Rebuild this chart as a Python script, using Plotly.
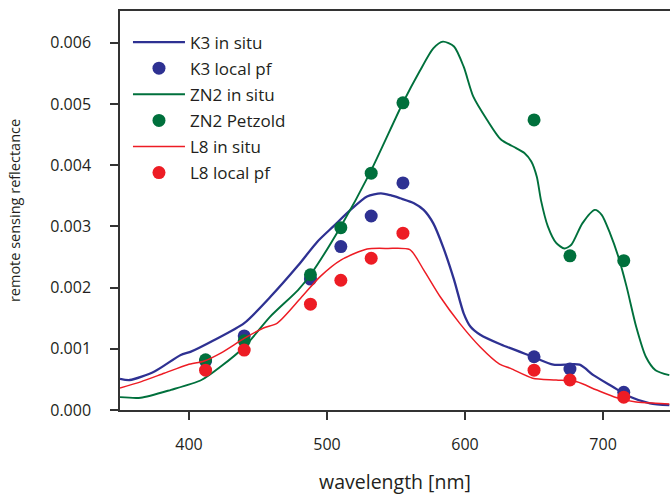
import plotly.graph_objects as go

# Measured in-situ spectra (wavelength in nm, remote sensing reflectance)
k3_wl = [350, 357, 375, 394, 401, 418, 440, 459, 479, 493, 505, 517, 529, 539, 546, 553,
         563, 570, 577, 584, 592, 599, 604, 611, 626, 649, 664, 683, 693, 707, 719, 734, 748]
k3_rrs = [0.00051, 0.00049, 0.00063, 0.00090, 0.00095, 0.00114, 0.00142, 0.00185, 0.00236,
          0.00275, 0.00301, 0.00327, 0.00349, 0.00354, 0.00351, 0.00346, 0.00338, 0.00327,
          0.00305, 0.00267, 0.00213, 0.00158, 0.00136, 0.00123, 0.00107, 0.00087, 0.00074,
          0.00074, 0.00057, 0.00038, 0.00022, 0.00011, 0.00008]

zn2_wl = [350, 365, 387, 409, 423, 440, 459, 479, 488, 510, 531, 555, 567, 577, 584, 592,
          599, 606, 616, 626, 637, 643, 648, 652, 655, 660, 666, 672, 677, 685, 694, 699,
          705, 711, 717, 724, 731, 738, 748]
zn2_rrs = [0.00021, 0.00020, 0.00033, 0.00049, 0.00071, 0.00103, 0.00153, 0.00196, 0.00221,
           0.00300, 0.00387, 0.00502, 0.00553, 0.00591, 0.00602, 0.00594, 0.00561, 0.00512,
           0.00474, 0.00442, 0.00428, 0.00420, 0.00406, 0.00381, 0.00343, 0.00300, 0.00273,
           0.00264, 0.00270, 0.00305, 0.00327, 0.00319, 0.00289, 0.00251, 0.00202, 0.00136,
           0.00087, 0.00065, 0.00057]

l8_wl = [350, 365, 382, 399, 411, 423, 440, 454, 464, 481, 495, 510, 529, 544, 560, 570,
         582, 596, 611, 625, 633, 649, 666, 681, 695, 710, 724, 738, 748]
l8_rrs = [0.00036, 0.00046, 0.00060, 0.00074, 0.00080, 0.00093, 0.00117, 0.00134, 0.00142,
          0.00183, 0.00218, 0.00245, 0.00263, 0.00264, 0.00262, 0.00229, 0.00185, 0.00142,
          0.00103, 0.00075, 0.00068, 0.00052, 0.00049, 0.00046, 0.00033, 0.00020, 0.00013,
          0.00011, 0.00010]

# Modelled values at the sensor bands
band_wl = [412, 440, 488, 510, 532, 555, 650, 676, 715]
k3_pf = [0.00080, 0.00121, 0.00214, 0.00267, 0.00317, 0.00371, 0.00087, 0.00067, 0.00029]
zn2_petzold = [0.00082, 0.00113, 0.00221, 0.00298, 0.00387, 0.00502, 0.00474, 0.00252, 0.00244]
l8_pf = [0.00065, 0.00098, 0.00173, 0.00212, 0.00248, 0.00289, 0.00065, 0.00049, 0.00021]

x_ticks = [400, 500, 600, 700]
y_ticks = [0.000, 0.001, 0.002, 0.003, 0.004, 0.005, 0.006]
y_tick_text = ["0.000", "0.001", "0.002", "0.003", "0.004", "0.005", "0.006"]

BLUE = "#2e3192"
GREEN = "#00703c"
RED = "#ed1c24"
AXIS = "#333333"
TEXT = "#231f20"
FONT = "Open Sans"

fig = go.Figure()

def line(x, y, name, color, width):
    fig.add_trace(go.Scatter(x=x, y=y, mode="lines", name=name, legendgroup=name,
                             line=dict(color=color, width=width, shape="spline", smoothing=0.7)))

def dots(x, y, name, color):
    fig.add_trace(go.Scatter(x=x, y=y, mode="markers", name=name, legendgroup=name,
                             marker=dict(color=color, size=13, line=dict(width=0))))

line(k3_wl, k3_rrs, "K3 in situ", BLUE, 2.3)
dots(band_wl, k3_pf, "K3 local pf", BLUE)
line(zn2_wl, zn2_rrs, "ZN2 in situ", GREEN, 1.9)
dots(band_wl, zn2_petzold, "ZN2 Petzold", GREEN)
line(l8_wl, l8_rrs, "L8 in situ", RED, 1.5)
dots(band_wl, l8_pf, "L8 local pf", RED)

fig.update_layout(
    width=670, height=495,
    margin=dict(l=120, r=0, t=11, b=85),
    paper_bgcolor="white", plot_bgcolor="white",
    font=dict(family=FONT, size=16, color=TEXT),
    showlegend=True,
    legend=dict(x=0.0145, y=0.966, xanchor="left", yanchor="top",
                bgcolor="rgba(0,0,0,0)", font=dict(size=17),
                traceorder="grouped", tracegroupgap=1, itemwidth=52),
    xaxis=dict(range=[350, 748.5], tickvals=x_ticks, ticks="outside", ticklen=8,
               tickcolor=AXIS, tickwidth=1.5, showline=True, linecolor=AXIS, linewidth=1.5,
               mirror=True, showgrid=False, zeroline=False, ticklabelstandoff=11,
               tickfont=dict(size=16),
               title=dict(text="wavelength [nm]", standoff=24, font=dict(size=19.5))),
    yaxis=dict(range=[0, 0.00652], tickvals=y_ticks, ticktext=y_tick_text, ticks="outside",
               ticklen=8, tickcolor=AXIS, tickwidth=1.5, showline=True, linecolor=AXIS,
               linewidth=1.5, showgrid=False, zeroline=False, ticklabelstandoff=16,
               tickfont=dict(size=16),
               title=dict(text="remote sensing reflectance", standoff=26, font=dict(size=14.5))),
)

fig.write_html("out.html")
